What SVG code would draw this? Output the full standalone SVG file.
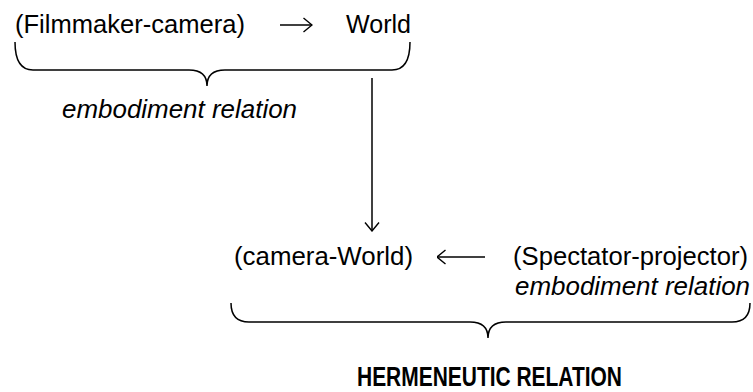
<svg xmlns="http://www.w3.org/2000/svg" width="753" height="392" viewBox="0 0 753 392">
<style>
.t{font-family:"Liberation Sans",Arial,sans-serif;font-size:26px;fill:#000}
.i{font-style:italic}
.h{font-family:"Liberation Sans Narrow","Liberation Sans",Arial,sans-serif;font-weight:bold;font-size:27px;fill:#000}
.ln{fill:none;stroke:#000;stroke-width:1.5}
</style>
<defs>
<marker id="ah" viewBox="0 0 10 16" refX="9.5" refY="8" markerWidth="10" markerHeight="16" markerUnits="userSpaceOnUse" orient="auto">
<path d="M1,1 L9.5,8 L1,15" fill="none" stroke="#000" stroke-width="1.4"/>
</marker>
</defs>
<g id="filmmaker"><text class="t" x="15" y="33" textLength="230" lengthAdjust="spacingAndGlyphs">(Filmmaker-camera)</text></g>
<g id="world"><text class="t" x="346" y="33" textLength="65" lengthAdjust="spacingAndGlyphs">World</text></g>
<g id="embodiment1"><text class="t i" x="62" y="118" textLength="235" lengthAdjust="spacingAndGlyphs">embodiment relation</text></g>
<g id="cameraworld"><text class="t" x="234" y="265" textLength="179" lengthAdjust="spacingAndGlyphs">(camera-World)</text></g>
<g id="spectator"><text class="t" x="513" y="265" textLength="235" lengthAdjust="spacingAndGlyphs">(Spectator-projector)</text></g>
<g id="embodiment2"><text class="t i" x="515" y="295" textLength="235" lengthAdjust="spacingAndGlyphs">embodiment relation</text></g>
<g id="hermeneutic"><text class="h" x="357" y="386" textLength="265" lengthAdjust="spacingAndGlyphs">HERMENEUTIC RELATION</text></g>
<g id="connectors">
<path class="ln" d="M15,42 Q15,70 33,70 L189,70 Q207,70 207,86 Q207,70 225,70 L392,70 Q410,70 410,42"/>
<path class="ln" d="M231,303 Q231,322 249,322 L470,322 Q488,322 488,338 Q488,322 506,322 L732,322 Q750,322 750,303"/>
<line class="ln" x1="280" y1="25" x2="312" y2="25" marker-end="url(#ah)"/>
<line class="ln" x1="372" y1="78" x2="372" y2="231" marker-end="url(#ah)"/>
<line class="ln" x1="485" y1="257" x2="437" y2="257" marker-end="url(#ah)"/>
</g>
</svg>
